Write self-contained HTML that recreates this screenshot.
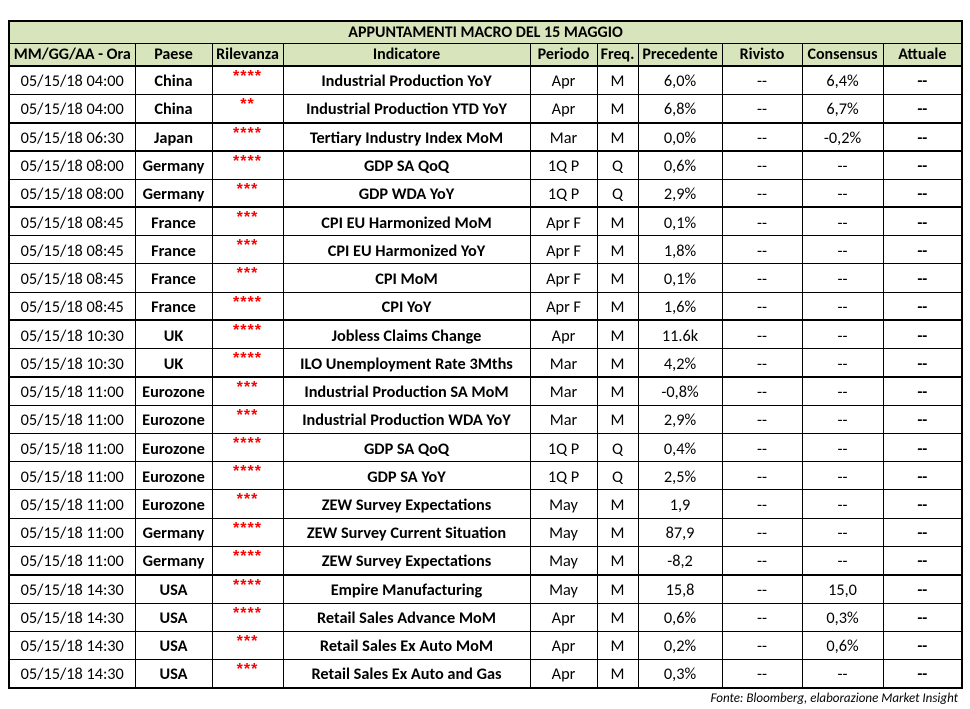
<!DOCTYPE html>
<html><head><meta charset="utf-8"><style>
body{margin:0;background:#fff;width:970px;height:709px;position:relative;font-family:"Carlito","Liberation Sans",sans-serif;}
table{position:absolute;left:8px;top:20px;border-collapse:collapse;table-layout:fixed;width:955px;border:2px solid #000;}
td{border:1px solid #000;text-align:center;padding:3px 0 0 0;font-size:16.3px;line-height:15px;color:#000;white-space:nowrap;overflow:hidden;height:27px;box-sizing:border-box;}
tr{height:28.28px}
tr.t{height:22px} tr.h{height:23px}
tr.t td{background:#d8e4bc;font-weight:bold;height:21px;border-bottom:1.5px solid #000;font-size:16px;padding-top:1px}
tr.h td{background:#d8e4bc;font-weight:bold;height:22px;border-bottom:2px solid #000;font-size:16px;padding-top:1px}
td.b{font-weight:bold}
td.s{color:#f00;font-weight:bold;vertical-align:top;padding-top:4px;font-family:"Liberation Sans",sans-serif;font-size:16px;line-height:12px;letter-spacing:1px}
tr.g td{border-top:2px solid #000}
.f{position:absolute;right:12px;top:692px;font-style:italic;font-size:13px;line-height:14px}
</style></head><body>
<table>
<colgroup><col style="width:126px"><col style="width:77px"><col style="width:71px"><col style="width:247px"><col style="width:67px"><col style="width:41px"><col style="width:84px"><col style="width:80px"><col style="width:81px"><col style="width:79px"></colgroup>
<tr class="t"><td colspan="10">APPUNTAMENTI MACRO DEL 15 MAGGIO</td></tr>
<tr class="h"><td>MM/GG/AA - Ora</td><td>Paese</td><td>Rilevanza</td><td>Indicatore</td><td>Periodo</td><td>Freq.</td><td>Precedente</td><td>Rivisto</td><td>Consensus</td><td>Attuale</td></tr>
<tr><td>05/15/18 04:00</td><td class="b">China</td><td class="s">****</td><td class="b">Industrial Production YoY</td><td>Apr</td><td>M</td><td>6,0%</td><td>--</td><td>6,4%</td><td class="b">--</td></tr>
<tr><td>05/15/18 04:00</td><td class="b">China</td><td class="s">**</td><td class="b">Industrial Production YTD YoY</td><td>Apr</td><td>M</td><td>6,8%</td><td>--</td><td>6,7%</td><td class="b">--</td></tr>
<tr class="g"><td>05/15/18 06:30</td><td class="b">Japan</td><td class="s">****</td><td class="b">Tertiary Industry Index MoM</td><td>Mar</td><td>M</td><td>0,0%</td><td>--</td><td>-0,2%</td><td class="b">--</td></tr>
<tr class="g"><td>05/15/18 08:00</td><td class="b">Germany</td><td class="s">****</td><td class="b">GDP SA QoQ</td><td>1Q P</td><td>Q</td><td>0,6%</td><td>--</td><td>--</td><td class="b">--</td></tr>
<tr><td>05/15/18 08:00</td><td class="b">Germany</td><td class="s">***</td><td class="b">GDP WDA YoY</td><td>1Q P</td><td>Q</td><td>2,9%</td><td>--</td><td>--</td><td class="b">--</td></tr>
<tr class="g"><td>05/15/18 08:45</td><td class="b">France</td><td class="s">***</td><td class="b">CPI EU Harmonized MoM</td><td>Apr F</td><td>M</td><td>0,1%</td><td>--</td><td>--</td><td class="b">--</td></tr>
<tr><td>05/15/18 08:45</td><td class="b">France</td><td class="s">***</td><td class="b">CPI EU Harmonized YoY</td><td>Apr F</td><td>M</td><td>1,8%</td><td>--</td><td>--</td><td class="b">--</td></tr>
<tr><td>05/15/18 08:45</td><td class="b">France</td><td class="s">***</td><td class="b">CPI MoM</td><td>Apr F</td><td>M</td><td>0,1%</td><td>--</td><td>--</td><td class="b">--</td></tr>
<tr><td>05/15/18 08:45</td><td class="b">France</td><td class="s">****</td><td class="b">CPI YoY</td><td>Apr F</td><td>M</td><td>1,6%</td><td>--</td><td>--</td><td class="b">--</td></tr>
<tr class="g"><td>05/15/18 10:30</td><td class="b">UK</td><td class="s">****</td><td class="b">Jobless Claims Change</td><td>Apr</td><td>M</td><td>11.6k</td><td>--</td><td>--</td><td class="b">--</td></tr>
<tr><td>05/15/18 10:30</td><td class="b">UK</td><td class="s">****</td><td class="b">ILO Unemployment Rate 3Mths</td><td>Mar</td><td>M</td><td>4,2%</td><td>--</td><td>--</td><td class="b">--</td></tr>
<tr class="g"><td>05/15/18 11:00</td><td class="b">Eurozone</td><td class="s">***</td><td class="b">Industrial Production SA MoM</td><td>Mar</td><td>M</td><td>-0,8%</td><td>--</td><td>--</td><td class="b">--</td></tr>
<tr><td>05/15/18 11:00</td><td class="b">Eurozone</td><td class="s">***</td><td class="b">Industrial Production WDA YoY</td><td>Mar</td><td>M</td><td>2,9%</td><td>--</td><td>--</td><td class="b">--</td></tr>
<tr><td>05/15/18 11:00</td><td class="b">Eurozone</td><td class="s">****</td><td class="b">GDP SA QoQ</td><td>1Q P</td><td>Q</td><td>0,4%</td><td>--</td><td>--</td><td class="b">--</td></tr>
<tr><td>05/15/18 11:00</td><td class="b">Eurozone</td><td class="s">****</td><td class="b">GDP SA YoY</td><td>1Q P</td><td>Q</td><td>2,5%</td><td>--</td><td>--</td><td class="b">--</td></tr>
<tr><td>05/15/18 11:00</td><td class="b">Eurozone</td><td class="s">***</td><td class="b">ZEW Survey Expectations</td><td>May</td><td>M</td><td>1,9</td><td>--</td><td>--</td><td class="b">--</td></tr>
<tr><td>05/15/18 11:00</td><td class="b">Germany</td><td class="s">****</td><td class="b">ZEW Survey Current Situation</td><td>May</td><td>M</td><td>87,9</td><td>--</td><td>--</td><td class="b">--</td></tr>
<tr><td>05/15/18 11:00</td><td class="b">Germany</td><td class="s">****</td><td class="b">ZEW Survey Expectations</td><td>May</td><td>M</td><td>-8,2</td><td>--</td><td>--</td><td class="b">--</td></tr>
<tr class="g"><td>05/15/18 14:30</td><td class="b">USA</td><td class="s">****</td><td class="b">Empire Manufacturing</td><td>May</td><td>M</td><td>15,8</td><td>--</td><td>15,0</td><td class="b">--</td></tr>
<tr><td>05/15/18 14:30</td><td class="b">USA</td><td class="s">****</td><td class="b">Retail Sales Advance MoM</td><td>Apr</td><td>M</td><td>0,6%</td><td>--</td><td>0,3%</td><td class="b">--</td></tr>
<tr><td>05/15/18 14:30</td><td class="b">USA</td><td class="s">***</td><td class="b">Retail Sales Ex Auto MoM</td><td>Apr</td><td>M</td><td>0,2%</td><td>--</td><td>0,6%</td><td class="b">--</td></tr>
<tr><td>05/15/18 14:30</td><td class="b">USA</td><td class="s">***</td><td class="b">Retail Sales Ex Auto and Gas</td><td>Apr</td><td>M</td><td>0,3%</td><td>--</td><td>--</td><td class="b">--</td></tr>
</table>
<div class="f">Fonte: Bloomberg, elaborazione Market Insight</div>
</body></html>
